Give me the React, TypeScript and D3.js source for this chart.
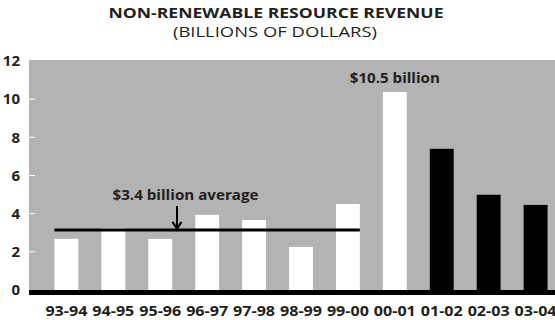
import React from "react";
import * as d3 from "d3";

const categories = ["93-94", "94-95", "95-96", "96-97", "97-98", "98-99", "99-00", "00-01", "01-02", "02-03", "03-04"];
const values = [2.68, 3.25, 2.68, 3.94, 3.67, 2.26, 4.51, 10.38, 7.4, 4.99, 4.46];
const barColors = ["white", "white", "white", "white", "white", "white", "white", "white", "black", "black", "black"];
const yTicks = [0, 2, 4, 6, 8, 10, 12];
const averageValue = 3.15;
const averageLabel = "$3.4 billion average";
const peakLabel = "$10.5 billion";
const title = "NON-RENEWABLE RESOURCE REVENUE";
const subtitle = "(BILLIONS OF DOLLARS)";

const W = 555;
const H = 320;
const FONT = "'Open Sans', 'Noto Sans', sans-serif";
const TEXT = "#231f20";
const GRAY = "#b3b3b3";

export default function App() {
  const x = d3.scaleBand<string>().domain(categories).range([31, 571]).paddingInner(0.49).paddingOuter(0.5);
  const y = d3.scaleLinear().domain([0, 12]).range([290, 61]);
  const plotLeft = 29;

  const avgY = y(averageValue);
  const avgX0 = x(categories[0])!;
  const avgX1 = x(categories[6])! + x.bandwidth();
  const arrowX = 177;

  return (
    <svg width={W} height={H} style={{ position: "absolute", left: 0, top: 0, fontFamily: FONT }}>
      <rect x={0} y={0} width={W} height={H} fill="white" />
      <text x={276} y={13.5} dy="0.35em" textAnchor="middle" fontWeight="bold" fontSize={14} fill={TEXT} textLength={335} lengthAdjust="spacingAndGlyphs">{title}</text>
      <text x={275} y={32.5} dy="0.35em" textAnchor="middle" fontSize={14} fill={TEXT} textLength={204} lengthAdjust="spacingAndGlyphs">{subtitle}</text>
      <rect x={plotLeft} y={60} width={W - plotLeft} height={y(0) - 60} fill={GRAY} />
      {yTicks.filter(t => t > 0 && t < 12).map(t => (
        <line key={"tk" + t} x1={plotLeft} x2={plotLeft + 6} y1={y(t)} y2={y(t)} stroke="white" strokeWidth={1} />
      ))}
      {yTicks.map(t => (
        <text key={"yl" + t} x={20} y={y(t)} dy="0.35em" textAnchor="end" fontWeight="bold" fontSize={15} fill={TEXT}>{t}</text>
      ))}
      {categories.map((c, i) => (
        <rect key={c} x={x(c)} y={y(values[i])} width={x.bandwidth()} height={y(0) - y(values[i])} fill={barColors[i]} />
      ))}
      <rect x={plotLeft} y={y(0)} width={W - plotLeft} height={5} fill="black" />
      {categories.map(c => (
        <text key={"xl" + c} x={x(c)! + x.bandwidth() / 2} y={311} dy="0.35em" textAnchor="middle" fontWeight="bold" fontSize={14.5} fill={TEXT} textLength={42} lengthAdjust="spacingAndGlyphs">{c}</text>
      ))}
      <line x1={avgX0} x2={avgX1} y1={avgY} y2={avgY} stroke="black" strokeWidth={3} />
      <line x1={arrowX} x2={arrowX} y1={206} y2={avgY - 1} stroke="black" strokeWidth={2} />
      <path d={`M${arrowX - 4.5},${avgY - 8} L${arrowX},${avgY - 1} L${arrowX + 4.5},${avgY - 8}`} fill="none" stroke="black" strokeWidth={2} />
      <text x={185.5} y={195} dy="0.35em" textAnchor="middle" fontWeight="bold" fontSize={14.5} fill={TEXT} textLength={146} lengthAdjust="spacingAndGlyphs">{averageLabel}</text>
      <text x={x(categories[7])! + x.bandwidth() / 2} y={78} dy="0.35em" textAnchor="middle" fontWeight="bold" fontSize={14.5} fill={TEXT} textLength={90} lengthAdjust="spacingAndGlyphs">{peakLabel}</text>
    </svg>
  );
}
